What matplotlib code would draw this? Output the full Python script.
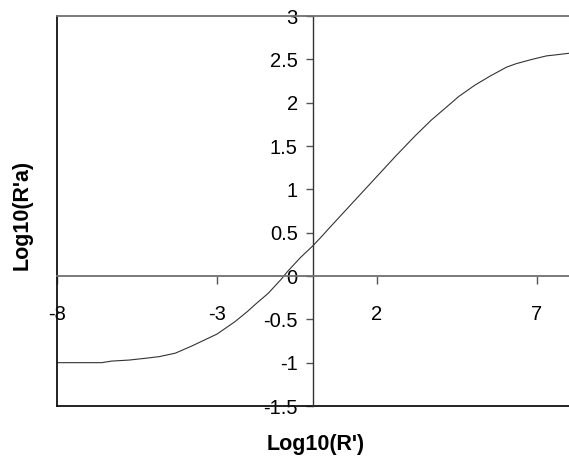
import matplotlib
matplotlib.use('Agg')
import matplotlib.pyplot as plt

# curve values
log_r = [-8, -6.6, -6.3, -5.75, -5.25, -4.8, -4.3, -3.8, -3.4, -3.0, -2.45, -2.05,
         -1.75, -1.4, -1.0, -0.8, -0.4, 0, 0.28, 0.5, 0.8, 1.0, 1.5, 1.75, 2.25,
         2.6, 3.2, 3.7, 4.3, 4.55, 5.05, 5.55, 5.8, 6.05, 6.35, 6.85, 7.3, 7.55, 8.0]
log_ra = [-1.0, -1.0, -0.982, -0.97, -0.95, -0.93, -0.89, -0.81, -0.74, -0.67,
          -0.53, -0.41, -0.31, -0.20, -0.04, 0.05, 0.21, 0.35, 0.46, 0.55, 0.67,
          0.75, 0.95, 1.05, 1.25, 1.39, 1.62, 1.80, 1.99, 2.07, 2.20, 2.31, 2.36,
          2.41, 2.45, 2.50, 2.54, 2.55, 2.57]

x_ticks = [-8, -3, 2, 7]
y_ticks = [-1.5, -1, -0.5, 0, 0.5, 1, 1.5, 2, 2.5, 3]

plt.rcParams['font.family'] = ['Liberation Sans', 'DejaVu Sans']
plt.rcParams['axes.unicode_minus'] = False

fig = plt.figure(figsize=(5.69, 4.62), dpi=100)
ax = fig.add_axes([57/569, 56/462, 512/569, 390/462])

ax.plot(log_r, log_ra, color='#333333', lw=0.8)

ax.set_xlim(-8, 8)
ax.set_ylim(-1.5, 3)

# axes cross at zero
ax.spines['left'].set_position(('data', 0))
ax.spines['bottom'].set_position(('data', 0))
ax.spines['left'].set_color('#333333')
ax.spines['bottom'].set_color('#707070')
ax.spines['left'].set_linewidth(1.0)
ax.spines['bottom'].set_linewidth(1.3)
ax.spines['right'].set_visible(False)
ax.spines['top'].set_color('#707070')
ax.spines['top'].set_linewidth(1.3)

# plot area frame
ax.axvline(-8, color='#111111', lw=1.3, clip_on=False)
ax.axhline(-1.5, color='#111111', lw=1.3, clip_on=False)

ax.set_xticks(x_ticks)
ax.set_xticklabels([f'{v:g}' for v in x_ticks])
ax.set_yticks(y_ticks)
ax.set_yticklabels([f'{v:g}' for v in y_ticks])
ax.tick_params(axis='x', direction='out', length=6, width=1, color='#555555',
               pad=15, labelsize=14.5)
ax.tick_params(axis='y', direction='out', length=5, width=1, color='#555555',
               pad=6, labelsize=14.5)

ax.set_xlabel("Log10(R')", fontsize=15.5, fontweight='bold')
ax.set_ylabel("Log10(R'a)", fontsize=15.5, fontweight='bold')
ax.xaxis.set_label_coords(0.506, -0.072)
ax.yaxis.set_label_coords(-0.047, 0.49)

fig.savefig('out.png', dpi=100)
